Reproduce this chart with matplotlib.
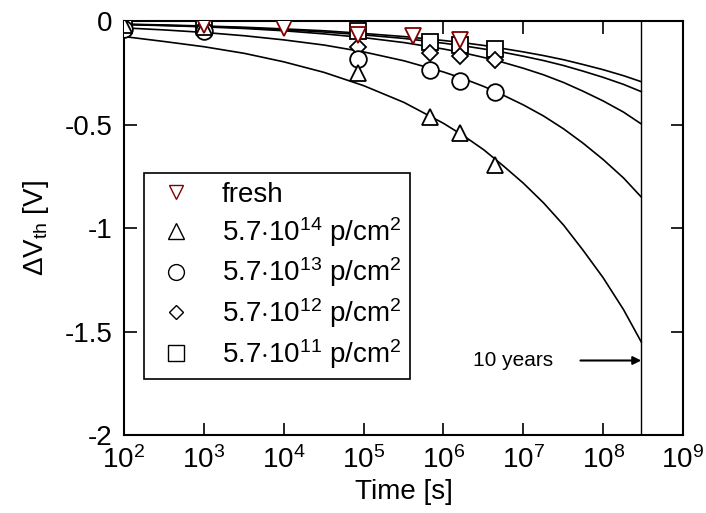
import numpy as np
import matplotlib
matplotlib.use('Agg')
import matplotlib.pyplot as plt
from matplotlib.ticker import FixedLocator

plt.rcParams['font.family'] = ['Liberation Sans', 'DejaVu Sans']
plt.rcParams['mathtext.fontset'] = 'custom'
plt.rcParams['mathtext.rm'] = 'Liberation Sans'
plt.rcParams['mathtext.it'] = 'Liberation Sans:italic'

# measured points (time [s], dVth [V])
t_fresh = [1e3, 1e4, 8.5e4, 4.2e5, 1.6e6]
v_fresh = [-0.02, -0.035, -0.068, -0.072, -0.092]

t_14 = [1e2, 1e3, 8.5e4, 6.8e5, 1.6e6, 4.4e6]
v_14 = [-0.02, -0.03, -0.25, -0.462, -0.54, -0.696]

t_13 = [1e2, 1e3, 8.5e4, 6.8e5, 1.6e6, 4.4e6]
v_13 = [-0.04, -0.05, -0.185, -0.237, -0.29, -0.341]

t_12 = [1e2, 1e3, 8.5e4, 6.8e5, 1.6e6, 4.4e6]
v_12 = [-0.025, -0.03, -0.124, -0.156, -0.169, -0.19]

t_11 = [1e2, 1e3, 8.5e4, 6.8e5, 1.6e6, 4.4e6]
v_11 = [-0.02, -0.02, -0.05, -0.10, -0.116, -0.137]

# fit curves (up to the 10 year line)
t_fit = [1e2, 3.2e2, 1e3, 3.2e3, 1e4, 3.2e4, 1e5, 3.2e5, 1e6, 1.8e6,
         3.2e6, 5.6e6, 1e7, 1.8e7, 3.2e7, 5.6e7, 1e8, 1.8e8, 3e8]
fit_fresh = [-0.015, -0.019, -0.024, -0.030, -0.038, -0.047, -0.060, -0.075,
             -0.094, -0.105, -0.118, -0.133, -0.149, -0.167, -0.187, -0.210,
             -0.235, -0.264, -0.293]
fit_11 = [-0.016, -0.021, -0.026, -0.033, -0.042, -0.053, -0.067, -0.084,
          -0.107, -0.120, -0.135, -0.151, -0.170, -0.191, -0.215, -0.242,
          -0.272, -0.306, -0.341]
fit_12 = [-0.017, -0.022, -0.028, -0.036, -0.047, -0.062, -0.080, -0.104,
          -0.135, -0.154, -0.176, -0.200, -0.228, -0.260, -0.297, -0.339,
          -0.386, -0.440, -0.497]
fit_13 = [-0.033, -0.043, -0.055, -0.071, -0.091, -0.116, -0.149, -0.192,
          -0.246, -0.279, -0.316, -0.358, -0.405, -0.459, -0.521, -0.590,
          -0.669, -0.758, -0.85]
fit_14 = [-0.075, -0.099, -0.124, -0.156, -0.197, -0.248, -0.312, -0.393,
          -0.494, -0.555, -0.622, -0.699, -0.783, -0.879, -0.986, -1.107,
          -1.24, -1.394, -1.55]

t_10y = 3e8

fig = plt.figure(figsize=(7.06, 5.13), dpi=100)
ax = fig.add_axes([0.1756, 0.152, 0.7918, 0.807])

for f in [fit_fresh, fit_11, fit_12, fit_13, fit_14]:
    ax.plot(t_fit, f, '-', color='k', lw=1.2, zorder=2)

ax.axvline(t_10y, color='k', lw=1.0, zorder=2)

mk = dict(linestyle='none', mfc='white', mew=1.3, zorder=3)
h11, = ax.plot(t_11, v_11, marker='s', ms=11.5, mec='k', **mk)
h12, = ax.plot(t_12, v_12, marker='D', ms=7.8, mec='k', **mk)
h13, = ax.plot(t_13, v_13, marker='o', ms=12, mec='k', **mk)
h14, = ax.plot(t_14, v_14, marker='^', ms=11.5, mec='k', **mk)
hfr, = ax.plot(t_fresh, v_fresh, marker='v', ms=11, mec='#800000', **mk)

ax.annotate('', xy=(t_10y, -1.64), xytext=(5.2e7, -1.64),
            arrowprops=dict(arrowstyle='-|>', color='k', lw=1.5,
                            mutation_scale=12, shrinkA=0, shrinkB=0))
ax.text(7.5e6, -1.64, '10 years', fontsize=15, ha='center', va='center')

leg_handles = [hfr, h14, h13, h12, h11]
leg_labels = ['fresh',
              r'5.7$\cdot$10$^{14}$ p/cm$^2$',
              r'5.7$\cdot$10$^{13}$ p/cm$^2$',
              r'5.7$\cdot$10$^{12}$ p/cm$^2$',
              r'5.7$\cdot$10$^{11}$ p/cm$^2$']
leg = ax.legend(leg_handles, leg_labels, loc='lower left',
                bbox_to_anchor=(0.0358, 0.135), fontsize=20,
                frameon=True, fancybox=False, framealpha=1,
                edgecolor='k', borderpad=0.3, labelspacing=0.25,
                handlelength=1.7, handletextpad=0.8, markerscale=0.95,
                borderaxespad=0)
leg.get_frame().set_linewidth(1.2)
for h in leg.legend_handles:
    h.set_markeredgewidth(1.0)

ax.set_xscale('log')
ax.set_xlim(1e2, 1e9)
ax.set_ylim(-2, 0)
ax.xaxis.set_major_locator(FixedLocator([1e2, 1e3, 1e4, 1e5, 1e6, 1e7, 1e8, 1e9]))
ax.xaxis.set_minor_locator(FixedLocator([]))
ax.set_yticks([0, -0.5, -1, -1.5, -2])
ax.set_yticklabels(['0', '-0.5', '-1', '-1.5', '-2'])
ax.tick_params(which='both', direction='in', top=True, right=True,
               length=9, width=1.2, labelsize=20, pad=8)
for s in ax.spines.values():
    s.set_linewidth(1.5)

ax.set_xlabel('Time [s]', fontsize=20, labelpad=4)
ax.set_ylabel(r'$\Delta$V$_{\rm th}$ [V]', fontsize=20, labelpad=10)

fig.savefig('out.png', dpi=100)
